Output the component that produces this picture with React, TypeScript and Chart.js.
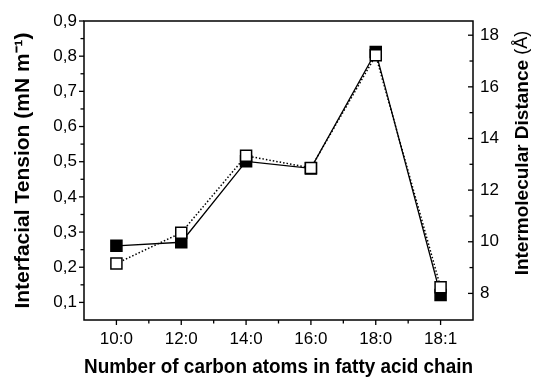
import React, { useEffect, useRef } from 'react';
import { Chart, registerables } from 'chart.js';

Chart.register(...registerables);

const categories = ['10:0', '12:0', '14:0', '16:0', '18:0', '18:1'];
const tensionValues = [0.261, 0.271, 0.501, 0.481, 0.812, 0.121];
const distanceValues = [9.16, 10.35, 13.33, 12.86, 17.22, 8.24];
const tensionTicks = [0.1, 0.2, 0.3, 0.4, 0.5, 0.6, 0.7, 0.8, 0.9];
const tensionMinorTicks = [0.15, 0.25, 0.35, 0.45, 0.55, 0.65, 0.75, 0.85];
const distanceTicks = [8, 10, 12, 14, 16, 18];
const distanceMinorTicks = [9, 11, 13, 15, 17];
const categoryMinorTicks = [0.5, 1.5, 2.5, 3.5, 4.5];

const rightTitleMain = 'Intermolecular Distance ';
const rightTitleUnit = '(\u00C5)';

const FONT = "'Liberation Sans', Arial, Helvetica, sans-serif";

const framePlugin = {
  id: 'framePlugin',
  afterDraw(chart: any) {
    const { ctx, chartArea: a, scales } = chart;
    const seg = (x1: number, y1: number, x2: number, y2: number) => {
      ctx.beginPath();
      ctx.moveTo(x1, y1);
      ctx.lineTo(x2, y2);
      ctx.stroke();
    };
    ctx.save();
    ctx.strokeStyle = '#000';
    ctx.lineWidth = 1.5;
    ctx.strokeRect(a.left, a.top, a.right - a.left, a.bottom - a.top);
    ctx.lineWidth = 1.3;
    const major = 5;
    const minor = 3.5;
    tensionTicks.forEach((v) => {
      const y = scales.y.getPixelForValue(v);
      seg(a.left - major, y, a.left, y);
    });
    tensionMinorTicks.forEach((v) => {
      const y = scales.y.getPixelForValue(v);
      seg(a.left - minor, y, a.left, y);
    });
    distanceTicks.forEach((v) => {
      const y = scales.y2.getPixelForValue(v);
      seg(a.right - major, y, a.right, y);
    });
    distanceMinorTicks.forEach((v) => {
      const y = scales.y2.getPixelForValue(v);
      seg(a.right - minor, y, a.right, y);
    });
    categories.forEach((_, i) => {
      const x = scales.x.getPixelForValue(i);
      seg(x, a.bottom, x, a.bottom + major);
    });
    categoryMinorTicks.forEach((v) => {
      const x = scales.x.getPixelForValue(v);
      seg(x, a.bottom, x, a.bottom + minor);
    });

    // right axis title, reading bottom-to-top like the left one
    const boldFont = `bold 19px ${FONT}`;
    const unitFont = `18px ${FONT}`;
    ctx.font = boldFont;
    const w1 = ctx.measureText(rightTitleMain).width;
    ctx.font = unitFont;
    const w2 = ctx.measureText(rightTitleUnit).width;
    const total = w1 + w2;
    const cx = a.right + 49.5;
    const cy = a.top + 132;
    ctx.translate(cx, cy);
    ctx.rotate(-Math.PI / 2);
    ctx.fillStyle = '#000';
    ctx.textBaseline = 'middle';
    ctx.textAlign = 'left';
    ctx.font = boldFont;
    ctx.fillText(rightTitleMain, -total / 2, 0);
    ctx.font = unitFont;
    ctx.fillText(rightTitleUnit, -total / 2 + w1, 0);
    ctx.restore();
  },
};

export default function App() {
  const ref = useRef<HTMLCanvasElement | null>(null);

  useEffect(() => {
    if (!ref.current) return;
    const chart = new Chart(ref.current, {
      type: 'line',
      data: {
        labels: categories,
        datasets: [
          {
            label: 'Intermolecular Distance',
            data: distanceValues,
            yAxisID: 'y2',
            borderColor: '#000',
            borderWidth: 1.5,
            borderDash: [1.5, 2],
            pointStyle: 'rect',
            pointRadius: 7.8,
            pointBackgroundColor: '#fff',
            pointBorderColor: '#000',
            pointBorderWidth: 1.5,
            tension: 0,
          },
          {
            label: 'Interfacial Tension',
            data: tensionValues,
            yAxisID: 'y',
            borderColor: '#000',
            borderWidth: 1.3,
            pointStyle: 'rect',
            pointRadius: 7.8,
            pointBackgroundColor: '#000',
            pointBorderColor: '#000',
            pointBorderWidth: 1.5,
            tension: 0,
          },
        ],
      },
      options: {
        responsive: false,
        animation: false,
        layout: { padding: { top: 21, left: 0, right: 0, bottom: 0 } },
        plugins: {
          legend: { display: false },
          tooltip: { enabled: false },
        },
        scales: {
          x: {
            type: 'category',
            offset: true,
            grid: { display: false, drawTicks: false },
            border: { display: false },
            ticks: {
              color: '#000',
              padding: 9,
              font: { family: FONT, size: 17 },
              maxRotation: 0,
            },
            title: {
              display: true,
              text: 'Number of carbon atoms in fatty acid chain',
              color: '#000',
              font: { family: FONT, size: 20, weight: 'bold' },
              padding: { top: 0, bottom: 0 },
            },
            afterFit(scale: any) {
              scale.height = 59;
            },
          },
          y: {
            type: 'linear',
            position: 'left',
            min: 0.05,
            max: 0.9,
            grid: { display: false, drawTicks: false },
            border: { display: false },
            afterBuildTicks(scale: any) {
              scale.ticks = tensionTicks.map((v) => ({ value: v }));
            },
            ticks: {
              color: '#000',
              padding: 7,
              font: { family: FONT, size: 17 },
              callback: (v: any) => Number(v).toFixed(1).replace('.', ','),
            },
            title: {
              display: true,
              text: 'Interfacial Tension (mN m\u207B\u00B9)',
              color: '#000',
              font: { family: FONT, size: 21, weight: 'bold' },
              padding: { top: 11, bottom: 0 },
            },
            afterFit(scale: any) {
              scale.width = 84;
            },
          },
          y2: {
            type: 'linear',
            position: 'right',
            min: 6.97,
            max: 18.55,
            grid: { display: false, drawTicks: false },
            border: { display: false },
            afterBuildTicks(scale: any) {
              scale.ticks = distanceTicks.map((v) => ({ value: v }));
            },
            ticks: {
              color: '#000',
              padding: 7,
              font: { family: FONT, size: 17 },
            },
            afterFit(scale: any) {
              scale.width = 61;
            },
          },
        },
      },
      plugins: [framePlugin],
    });
    return () => chart.destroy();
  }, []);

  return (
    <div style={{ position: 'fixed', left: 0, top: 0, width: 534, height: 379, background: '#fff' }}>
      <canvas ref={ref} width={534} height={379} />
    </div>
  );
}
